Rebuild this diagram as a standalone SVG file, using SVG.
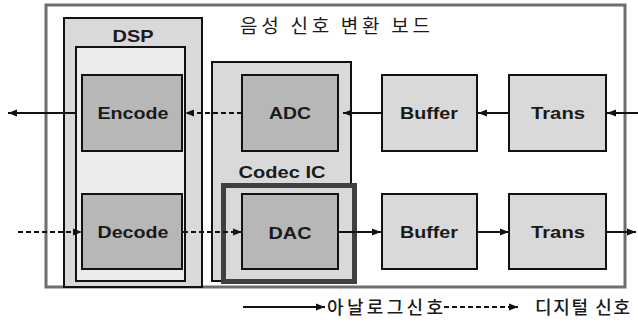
<svg xmlns="http://www.w3.org/2000/svg" width="638" height="325" viewBox="0 0 638 325">
  <style>
    .lbl { font-family: "Liberation Sans", Arial, sans-serif; font-weight: bold; font-size: 17px; fill: #1a1a1a; text-anchor: middle; }
    .kr { font-family: "Noto Sans CJK KR", "Noto Sans", sans-serif; fill: #1a1a1a; }
    .box { stroke: #111; stroke-width: 2; }
    .light { fill: #d9d9d9; }
    .pale { fill: #ececec; }
    .dark { fill: #b7b7b7; }
    .wire { fill: none; stroke: #111; stroke-width: 2; }
    .dash { stroke-dasharray: 5 3; }
  </style>
  <defs>
    <marker id="arrow" markerUnits="userSpaceOnUse" markerWidth="10" markerHeight="8" refX="9" refY="4" orient="auto">
      <path d="M0,0.5 L9,4 L0,7.5 z" fill="#111"/>
    </marker>
  </defs>

  <rect width="638" height="325" fill="#ffffff"/>

  <!-- board frame and title -->
  <g id="board">
    <rect x="46" y="5" width="579" height="282" fill="#ffffff" stroke="#6e6e6e" stroke-width="3"/>
    <text class="kr" x="240" y="33" font-size="19" textLength="190" lengthAdjust="spacing">음성 신호 변환 보드</text>
  </g>

  <!-- DSP block -->
  <g id="dsp">
    <rect class="box light" x="64" y="18" width="138" height="269"/>
    <text class="lbl" x="133" y="42" textLength="41" lengthAdjust="spacingAndGlyphs">DSP</text>
    <rect class="box pale" x="76" y="47" width="109" height="234"/>
  </g>
  <g id="encode">
    <rect class="box dark" x="82" y="75" width="100" height="76"/>
    <text class="lbl" x="133" y="119" textLength="71" lengthAdjust="spacingAndGlyphs">Encode</text>
  </g>
  <g id="decode">
    <rect class="box dark" x="82" y="194" width="100" height="75"/>
    <text class="lbl" x="133" y="238" textLength="71" lengthAdjust="spacingAndGlyphs">Decode</text>
  </g>

  <!-- Codec IC block -->
  <g id="codec">
    <rect class="box light" x="212" y="62" width="139" height="219"/>
    <text class="lbl" x="282" y="178" textLength="87" lengthAdjust="spacingAndGlyphs">Codec IC</text>
  </g>
  <g id="adc">
    <rect class="box dark" x="242" y="75" width="96" height="76"/>
    <text class="lbl" x="290" y="119" textLength="42" lengthAdjust="spacingAndGlyphs">ADC</text>
  </g>
  <g id="dac">
    <rect x="223.5" y="185.5" width="131" height="96" fill="#d9d9d9" stroke="#3f3f3f" stroke-width="5"/>
    <rect class="box dark" x="242" y="194" width="96" height="75"/>
    <text class="lbl" x="290" y="239" textLength="43" lengthAdjust="spacingAndGlyphs">DAC</text>
  </g>

  <!-- line stages -->
  <g id="buffer-in">
    <rect class="box light" x="382" y="75" width="95" height="76"/>
    <text class="lbl" x="429" y="119" textLength="58" lengthAdjust="spacingAndGlyphs">Buffer</text>
  </g>
  <g id="trans-in">
    <rect class="box light" x="509" y="75" width="97" height="76"/>
    <text class="lbl" x="558" y="119" textLength="54" lengthAdjust="spacingAndGlyphs">Trans</text>
  </g>
  <g id="buffer-out">
    <rect class="box light" x="382" y="194" width="95" height="75"/>
    <text class="lbl" x="429" y="238" textLength="58" lengthAdjust="spacingAndGlyphs">Buffer</text>
  </g>
  <g id="trans-out">
    <rect class="box light" x="509" y="194" width="97" height="75"/>
    <text class="lbl" x="558" y="238" textLength="54" lengthAdjust="spacingAndGlyphs">Trans</text>
  </g>

  <!-- signal connectors -->
  <g id="connectors">
    <line class="wire" x1="638" y1="113" x2="607" y2="113" marker-end="url(#arrow)"/>
    <line class="wire" x1="509" y1="113" x2="478" y2="113" marker-end="url(#arrow)"/>
    <line class="wire" x1="382" y1="113" x2="343" y2="113" marker-end="url(#arrow)"/>
    <line class="wire dash" x1="242" y1="113" x2="185" y2="113" marker-end="url(#arrow)"/>
    <line class="wire" x1="77" y1="113" x2="8" y2="113" marker-end="url(#arrow)"/>

    <line class="wire dash" x1="18" y1="232" x2="82" y2="232" marker-end="url(#arrow)"/>
    <line class="wire dash" x1="183" y1="232" x2="242" y2="232" marker-end="url(#arrow)"/>
    <line class="wire" x1="338" y1="232" x2="381" y2="232" marker-end="url(#arrow)"/>
    <line class="wire" x1="477" y1="232" x2="509" y2="232" marker-end="url(#arrow)"/>
    <line class="wire" x1="606" y1="232" x2="636" y2="232" marker-end="url(#arrow)"/>
  </g>

  <!-- legend -->
  <g id="legend">
    <line class="wire" x1="243" y1="307" x2="325" y2="307" marker-end="url(#arrow)"/>
    <text class="kr" x="327" y="314" font-size="18" font-weight="500" textLength="116" lengthAdjust="spacing">아날로그신호</text>
    <line class="wire dash" x1="444" y1="307" x2="518" y2="307" marker-end="url(#arrow)"/>
    <text class="kr" x="535" y="314" font-size="18" font-weight="500" textLength="95" lengthAdjust="spacing">디지털 신호</text>
  </g>
</svg>
